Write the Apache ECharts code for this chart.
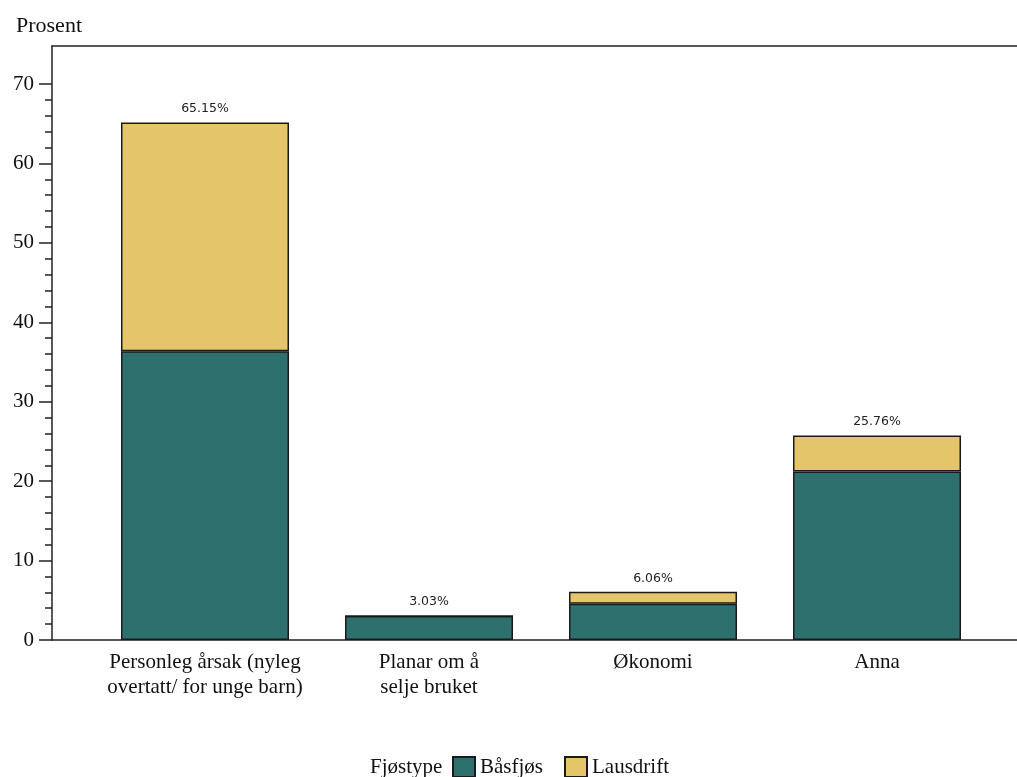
<!DOCTYPE html>
<html>
<head>
<meta charset="utf-8">
<script src="https://cdn.jsdelivr.net/npm/echarts@6/dist/echarts.min.js"></script>
<style>
  html, body { margin: 0; padding: 0; background: #fff; }
  #main { width: 1017px; height: 777px; }
</style>
</head>
<body>
<div id="main"></div>
<script>
// categories and values (prosent)
var categories = ['Personleg årsak (nyleg\novertatt/ for unge barn)', 'Planar om å\nselje bruket', 'Økonomi', 'Anna'];
var basfjos = [36.36, 3.03, 4.55, 21.21];
var lausdrift = [28.79, 0, 1.52, 4.55];
var totals = [65.15, 3.03, 6.06, 25.76];

var serif = '"Liberation Serif", "DejaVu Serif", serif';
var chart = echarts.init(document.getElementById('main'));

var frameLine = { show: true, onZero: false, lineStyle: { color: '#222', width: 1.5 } };

var option = {
  backgroundColor: '#fff',
  animation: false,
  title: {
    text: 'Prosent',
    left: 11, top: 10,
    textStyle: { fontFamily: serif, fontSize: 22, fontWeight: 'normal', color: '#111' }
  },
  graphic: [{
    type: 'text', left: 370, top: 757,
    style: { text: 'Fjøstype', font: '21px ' + serif, fill: '#111' }
  }],
  legend: {
    left: 452, top: 756, padding: 0,
    icon: 'rect',
    itemWidth: 22, itemHeight: 20, itemGap: 21,
    textStyle: { fontFamily: serif, fontSize: 21, color: '#111' },
    data: ['Båsfjøs', 'Lausdrift']
  },
  grid: [
    { left: 52, right: 0, top: 46, bottom: 137 },
    { left: 93, width: 896, top: 84, bottom: 137 }
  ],
  xAxis: [
    { gridIndex: 0, type: 'value', min: 0, max: 1, axisLine: frameLine,
      axisTick: { show: false }, axisLabel: { show: false }, splitLine: { show: false } },
    { gridIndex: 0, type: 'value', position: 'top', min: 0, max: 1, axisLine: frameLine,
      axisTick: { show: false }, axisLabel: { show: false }, splitLine: { show: false } },
    { gridIndex: 1, type: 'category', data: categories,
      axisLine: { show: false }, axisTick: { show: false },
      axisLabel: { interval: 0, margin: 10, fontFamily: serif, fontSize: 21, lineHeight: 25, color: '#111' } }
  ],
  yAxis: [
    { gridIndex: 0, type: 'value', min: 0, max: 1, axisLine: frameLine,
      axisTick: { show: false }, axisLabel: { show: false }, splitLine: { show: false } },
    { gridIndex: 1, type: 'value', min: 0, max: 70, interval: 10, offset: 41,
      axisLine: { show: false },
      axisTick: { show: true, length: 13, lineStyle: { color: '#222', width: 1.5 } },
      minorTick: { show: true, splitNumber: 5, length: 7, lineStyle: { color: '#222', width: 1.5 } },
      axisLabel: { margin: 18, fontFamily: serif, fontSize: 21, color: '#111' },
      splitLine: { show: false } }
  ],
  series: [
    {
      name: 'Båsfjøs', type: 'bar', stack: 'total', xAxisIndex: 2, yAxisIndex: 1,
      barWidth: 168, data: basfjos,
      itemStyle: { color: '#2e706d', borderColor: '#1a1a1a', borderWidth: 1.5 }
    },
    {
      name: 'Lausdrift', type: 'bar', stack: 'total', xAxisIndex: 2, yAxisIndex: 1,
      barWidth: 168, data: lausdrift,
      itemStyle: { color: '#e4c56a', borderColor: '#1a1a1a', borderWidth: 1.5 },
      label: {
        show: true, position: 'top', distance: 7,
        fontFamily: '"DejaVu Sans", sans-serif', fontSize: 12.5, color: '#222',
        formatter: function (p) { return totals[p.dataIndex].toFixed(2) + '%'; }
      }
    }
  ]
};
chart.setOption(option);
</script>
</body>
</html>
